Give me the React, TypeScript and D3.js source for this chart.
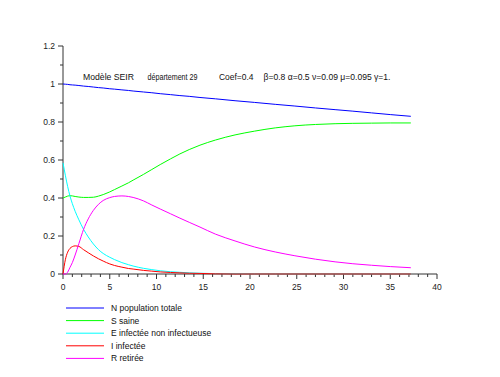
import React from "react";
import * as d3 from "d3";

const times = [0, 0.25, 0.5, 0.75, 1, 1.3, 1.7, 2.2, 2.7, 3.25, 3.8, 4.3, 5, 5.5, 6.3, 7, 7.5, 8.6, 9.5, 10.4, 11.5, 12.5, 13.5, 14.65, 16.3, 18.4, 20.5, 22.7, 24.8, 27, 29.1, 31, 33, 35, 37.2];

const nTotal = [1.0, 0.999, 0.998, 0.996, 0.995, 0.994, 0.992, 0.989, 0.987, 0.984, 0.981, 0.979, 0.975, 0.973, 0.969, 0.966, 0.963, 0.958, 0.954, 0.949, 0.944, 0.939, 0.935, 0.929, 0.922, 0.912, 0.903, 0.893, 0.884, 0.874, 0.865, 0.857, 0.848, 0.839, 0.83];
const sSaine = [0.4, 0.405, 0.41, 0.412, 0.411, 0.408, 0.405, 0.403, 0.403, 0.404, 0.41, 0.418, 0.432, 0.444, 0.463, 0.48, 0.494, 0.524, 0.55, 0.576, 0.606, 0.632, 0.655, 0.678, 0.705, 0.732, 0.752, 0.769, 0.78, 0.787, 0.791, 0.793, 0.794, 0.795, 0.795];
const eInfectee = [0.585, 0.52, 0.46, 0.41, 0.37, 0.33, 0.285, 0.235, 0.195, 0.158, 0.128, 0.108, 0.088, 0.076, 0.06, 0.049, 0.042, 0.03, 0.023, 0.017, 0.012, 0.009, 0.006, 0.004, 0.002, 0.001, 0, 0, 0, 0, 0, 0, 0, 0, 0];
const iInfectee = [0, 0.075, 0.115, 0.135, 0.144, 0.148, 0.145, 0.128, 0.112, 0.095, 0.08, 0.068, 0.053, 0.045, 0.036, 0.029, 0.026, 0.019, 0.015, 0.011, 0.008, 0.006, 0.004, 0.003, 0.001, 0, 0, 0, 0, 0, 0, 0, 0, 0, 0];
const rRetiree = [0, 0.0, 0.01, 0.035, 0.06, 0.1, 0.16, 0.235, 0.29, 0.335, 0.367, 0.387, 0.402, 0.408, 0.411, 0.408, 0.403, 0.385, 0.363, 0.342, 0.317, 0.294, 0.272, 0.247, 0.21, 0.174, 0.142, 0.116, 0.096, 0.078, 0.064, 0.054, 0.046, 0.039, 0.033];

const seriesNames = ["N population totale", "S saine", "E infectée non infectueuse", "I infectée", "R retirée"];
const seriesColors = ["#0000ff", "#00ff00", "#00ffff", "#ff0000", "#ff00ff"];
const seriesValues = [nTotal, sSaine, eInfectee, iInfectee, rRetiree];

const xTicks = [0, 5, 10, 15, 20, 25, 30, 35, 40];
const yTicks = [0, 0.2, 0.4, 0.6, 0.8, 1, 1.2];
const yTickLabels = ["0", "0.2", "0.4", "0.6", "0.8", "1", "1.2"];

const titleParts = ["Modèle SEIR", "département 29", "Coef=0.4", "β=0.8 α=0.5 ν=0.09 μ=0.095 γ=1."];

export default function App() {
  const x = d3.scaleLinear().domain([0, 40]).range([63, 437]);
  const y = d3.scaleLinear().domain([0, 1.2]).range([274, 46]);
  const line = d3
    .line<number>()
    .x((_, i) => x(times[i]))
    .y((v) => y(v))
    .curve(d3.curveMonotoneX);

  const xMinor = d3.range(0, 41, 1).filter((v) => v % 5 !== 0);
  const yMinor = d3.range(0.1, 1.2, 0.2);

  const titleX = [83, 147.5, 219, 263.5];
  const titleW = [51, 50, 34.5, 127];

  const font = "'Liberation Sans', Arial, Helvetica, sans-serif";
  const axisColor = "#333";

  return (
    <svg
      width={500}
      height={377}
      style={{ position: "absolute", left: 0, top: 0, background: "#fff" }}
      fontFamily={font}
    >
      <rect x={0} y={0} width={500} height={377} fill="#fff" />
      <line x1={x(0)} x2={x(40)} y1={y(0)} y2={y(0)} stroke={axisColor} strokeWidth={1} />
      <line x1={x(0)} x2={x(0)} y1={y(0)} y2={y(1.2)} stroke={axisColor} strokeWidth={1} />
      {xTicks.map((t) => (
        <g key={"xt" + t}>
          <line x1={x(t)} x2={x(t)} y1={y(0)} y2={y(0) + 5} stroke={axisColor} />
          <text x={x(t)} y={290} fontSize={8.5} textAnchor="middle" fill="#222">
            {t}
          </text>
        </g>
      ))}
      {xMinor.map((t) => (
        <line key={"xm" + t} x1={x(t)} x2={x(t)} y1={y(0)} y2={y(0) + 3} stroke={axisColor} />
      ))}
      {yTicks.map((t, i) => (
        <g key={"yt" + t}>
          <line x1={x(0) - 5} x2={x(0)} y1={y(t)} y2={y(t)} stroke={axisColor} />
          <text x={55} y={y(t)} dy="0.35em" fontSize={8.5} textAnchor="end" fill="#222">
            {yTickLabels[i]}
          </text>
        </g>
      ))}
      {yMinor.map((t) => (
        <line key={"ym" + t} x1={x(0) - 3} x2={x(0)} y1={y(t)} y2={y(t)} stroke={axisColor} />
      ))}
      {titleParts.map((p, i) => (
        <text
          key={"ti" + i}
          x={titleX[i]}
          y={79.5}
          fontSize={8.5}
          fill="#111"
          textLength={titleW[i]}
          lengthAdjust="spacingAndGlyphs"
        >
          {p}
        </text>
      ))}
      {seriesValues.map((vals, i) => (
        <path key={"s" + i} d={line(vals) || ""} fill="none" stroke={seriesColors[i]} strokeWidth={1} />
      ))}
      {seriesNames.map((name, i) => {
        const ly = 308 + i * 12.6;
        return (
          <g key={"lg" + i}>
            <line x1={66} x2={104} y1={ly} y2={ly} stroke={seriesColors[i]} strokeWidth={1} />
            <text x={111} y={ly} dy="0.35em" fontSize={8.5} fill="#111">
              {name}
            </text>
          </g>
        );
      })}
    </svg>
  );
}
